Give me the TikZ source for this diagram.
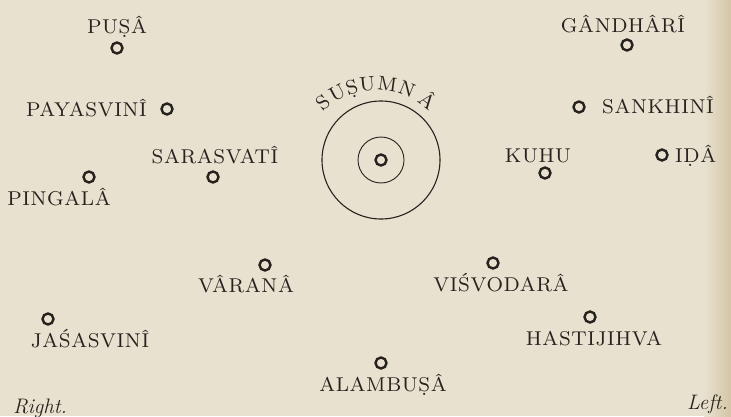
\documentclass[tikz,border=0pt]{standalone}
\usepackage{fontspec}
\setmainfont{Latin Modern Roman}
\newfontfamily\nadifont{lmroman8-regular.otf}[LetterSpace=3]
\usepackage{tikz}
\definecolor{NadiPaper}{RGB}{232,225,207}
\definecolor{NadiEdge}{RGB}{212,198,166}
\definecolor{NadiInk}{RGB}{38,34,30}
\tikzset{
  nadi/.style={circle, draw=NadiInk, line width=2.4pt, inner sep=0pt, minimum size=11pt},
  nadiname/.style={text=NadiInk, inner sep=0pt, font=\nadifont\fontsize{20}{22}\selectfont},
  sidename/.style={text=NadiInk, inner sep=0pt, font=\fontsize{21}{23}\selectfont\itshape}
}
\begin{document}
\begin{tikzpicture}[x=1pt,y=1pt]
  \path[use as bounding box] (0,0) rectangle (731,416);
  \fill[NadiPaper] (0,0) rectangle (731,416);
  \shade[left color=NadiPaper, right color=NadiEdge] (704,0) rectangle (731,416);
  % the central channel
  \node[circle, draw=NadiInk, line width=1.1pt, inner sep=0pt, minimum size=118pt] (susumna) at (381,256) {};
  \node[circle, draw=NadiInk, line width=0.9pt, inner sep=0pt, minimum size=46pt] (susumna-in) at (381,256) {};
  \node[nadi] (susumna-c) at (381,256) {};
  \foreach \ch/\ang [evaluate=\ang as \tilt using \ang-90] in {S/130, U/118, Ṣ/107, U/96, M/82, N/68, Â/52}{
    \node[nadiname, anchor=base, rotate=\tilt] (arc-\ang) at ([shift={(\ang:76)}]376,250) {\ch};
  }
  % the other nadis
  \foreach \n/\x/\y in {pusa/117/368, gandhari/627/371, payasvini/167/307, sankhini/579/309,
      sarasvati/213/239, pingala/89/239, kuhu/545/243, ida/662/261, varana/265/151,
      visvodara/493/153, jasasvini/48/97, hastijihva/590/99, alambusa/381/53}{
    \node[nadi] (\n) at (\x,\y) {};
  }
  \node[nadiname, anchor=base] (pusa-t) at (117,382) {PUṢÂ};
  \node[nadiname, anchor=base] (gandhari-t) at (623,383) {GÂNDHÂRÎ};
  \node[nadiname, anchor=base east] (payasvini-t) at (147,299) {PAYASVINÎ};
  \node[nadiname, anchor=base west] (sankhini-t) at (602,303) {SANKHINÎ};
  \node[nadiname, anchor=base] (sarasvati-t) at (215,253) {SARASVATÎ};
  \node[nadiname, anchor=base] (pingala-t) at (59,211) {PINGALÂ};
  \node[nadiname, anchor=base] (kuhu-t) at (538,254) {KUHU};
  \node[nadiname, anchor=base west] (ida-t) at (675,254) {IḌÂ};
  \node[nadiname, anchor=base] (varana-t) at (246,124) {VÂRANÂ};
  \node[nadiname, anchor=base] (visvodara-t) at (501,125) {VIŚVODARÂ};
  \node[nadiname, anchor=base] (jasasvini-t) at (90,69) {JAŚASVINÎ};
  \node[nadiname, anchor=base] (hastijihva-t) at (594,71) {HASTIJIHVA};
  \node[nadiname, anchor=base] (alambusa-t) at (383,25) {ALAMBUṢÂ};
  \node[sidename, anchor=base west] (right) at (13,3) {Right.};
  \node[sidename, anchor=base east] (left) at (728,7) {Left.};
\end{tikzpicture}
\end{document}
